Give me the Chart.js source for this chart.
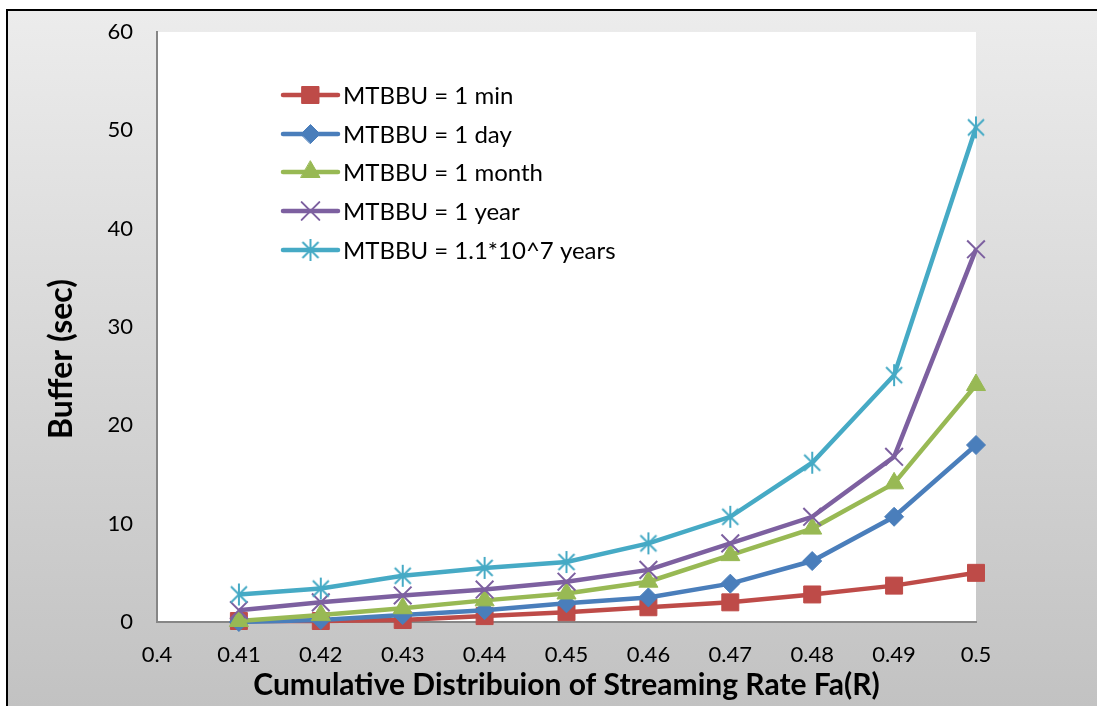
<!DOCTYPE html>
<html>
<head>
<meta charset="utf-8">
<script src="https://cdn.jsdelivr.net/npm/chart.js@4/dist/chart.umd.min.js"></script>
<style>
  html, body { margin: 0; padding: 0; background: #fff; }
  #wrap { width: 1097px; height: 706px; }
</style>
</head>
<body>
<div id="wrap"><canvas id="c" width="1097" height="706"></canvas></div>
<script>
// Streaming rate distribution points (x) and buffer size in seconds (y)
const xValues = [0.41, 0.42, 0.43, 0.44, 0.45, 0.46, 0.47, 0.48, 0.49, 0.50];
const xTickValues = [0.40, 0.41, 0.42, 0.43, 0.44, 0.45, 0.46, 0.47, 0.48, 0.49, 0.50];
const yTickValues = [0, 10, 20, 30, 40, 50, 60];

const seriesLabels = [
  'MTBBU = 1 min',
  'MTBBU = 1 day',
  'MTBBU = 1 month',
  'MTBBU = 1 year',
  'MTBBU = 1.1*10^7 years'
];
const bufferMin   = [0.1, 0.1, 0.2, 0.6, 1.0, 1.5, 2.0, 2.8, 3.7, 5.0];
const bufferDay   = [0.0, 0.2, 0.7, 1.2, 1.9, 2.5, 3.9, 6.2, 10.7, 18.0];
const bufferMonth = [0.1, 0.7, 1.4, 2.2, 2.9, 4.1, 6.8, 9.5, 14.1, 24.1];
const bufferYear  = [1.2, 2.0, 2.7, 3.3, 4.1, 5.3, 8.0, 10.7, 16.8, 37.9];
const bufferMax   = [2.8, 3.4, 4.7, 5.5, 6.1, 8.0, 10.7, 16.2, 25.1, 50.3];

const xTitle = 'Cumulative Distribuion of Streaming Rate Fa(R)';
const yTitle = 'Buffer (sec)';

const FONT = 'Lato';
const colors = ['#BE4B48', '#4A7EBB', '#98B954', '#7D60A0', '#46AAC5'];

// Six-armed asterisk marker (X with a vertical bar)
function makeStar(color) {
  const c = document.createElement('canvas');
  c.width = 24; c.height = 24;
  const g = c.getContext('2d');
  g.strokeStyle = color;
  g.lineWidth = 2;
  g.beginPath();
  g.moveTo(4, 4); g.lineTo(20, 20);
  g.moveTo(20, 4); g.lineTo(4, 20);
  g.moveTo(12, 1); g.lineTo(12, 23);
  g.stroke();
  return c;
}

const markers = [
  { pointStyle: 'rect', pointRadius: 12, pointBorderWidth: 1 },
  { pointStyle: 'rectRot', pointRadius: 9.5, pointBorderWidth: 1 },
  { pointStyle: 'triangle', pointRadius: 11, pointBorderWidth: 1 },
  { pointStyle: 'crossRot', pointRadius: 12.5, pointBorderWidth: 2 },
  { pointStyle: makeStar(colors[4]), pointRadius: 12, pointBorderWidth: 2 }
];

const seriesValues = [bufferMin, bufferDay, bufferMonth, bufferYear, bufferMax];

const datasets = seriesValues.map((vals, i) => ({
  label: seriesLabels[i],
  data: vals.map((v, k) => ({ x: xValues[k], y: v })),
  borderColor: colors[i],
  backgroundColor: colors[i],
  pointBackgroundColor: colors[i],
  pointBorderColor: colors[i],
  borderWidth: 4.5,
  tension: 0,
  clip: false,
  order: seriesValues.length - i,
  ...markers[i]
}));

// Frame, gradient background and white plot area
const backdrop = {
  id: 'backdrop',
  beforeDraw(chart) {
    const { ctx, width, height, chartArea: a } = chart;
    ctx.save();
    ctx.fillStyle = '#ffffff';
    ctx.fillRect(0, 0, width, height);
    const grad = ctx.createLinearGradient(0, 10, 0, 740);
    grad.addColorStop(0, '#ececec');
    grad.addColorStop(1, '#c0c0c0');
    ctx.fillStyle = grad;
    ctx.fillRect(7, 10, width + 10, height + 10);
    ctx.strokeStyle = '#000000';
    ctx.lineWidth = 2;
    ctx.strokeRect(7, 10, width + 10, height + 10);
    ctx.fillStyle = '#ffffff';
    ctx.fillRect(a.left, a.top, a.right - a.left, a.bottom - a.top);
    ctx.restore();
  }
};

// Legend inside the plot area, and both axis titles
const annotations = {
  id: 'annotations',
  afterDraw(chart) {
    const { ctx, chartArea: a } = chart;
    ctx.save();
    const x0 = 283, x1 = 338, textX = 343;
    const rowY = [95, 134, 172, 211, 250];
    chart.data.datasets.forEach((ds, i) => {
      const y = rowY[i];
      ctx.strokeStyle = ds.borderColor;
      ctx.lineWidth = 4.5;
      ctx.lineCap = 'round';
      ctx.beginPath();
      ctx.moveTo(x0, y);
      ctx.lineTo(x1, y);
      ctx.stroke();
      ctx.fillStyle = ds.backgroundColor;
      ctx.strokeStyle = ds.borderColor;
      ctx.lineWidth = ds.pointBorderWidth;
      Chart.helpers.drawPoint(ctx, {
        pointStyle: ds.pointStyle,
        radius: ds.pointRadius,
        rotation: 0,
        borderWidth: ds.pointBorderWidth
      }, (x0 + x1) / 2, y);
      ctx.fillStyle = '#000000';
      ctx.font = `24px ${FONT}`;
      ctx.textAlign = 'left';
      ctx.textBaseline = 'middle';
      ctx.fillText(ds.label, textX, y + 1);
    });

    ctx.fillStyle = '#000000';
    ctx.textAlign = 'center';
    ctx.textBaseline = 'alphabetic';
    ctx.font = `bold 30px ${FONT}`;
    ctx.fillText(xTitle, (a.left + a.right) / 2, 695);

    ctx.translate(72, 359);
    ctx.rotate(-Math.PI / 2);
    ctx.font = `bold 32px ${FONT}`;
    ctx.fillText(yTitle, 0, 0);
    ctx.restore();
  }
};

new Chart(document.getElementById('c'), {
  type: 'line',
  data: { datasets },
  plugins: [backdrop, annotations],
  options: {
    responsive: false,
    animation: false,
    devicePixelRatio: 1,
    layout: { padding: { left: 0, top: 32, right: 121, bottom: 0 } },
    plugins: { legend: { display: false }, tooltip: { enabled: false } },
    scales: {
      x: {
        type: 'linear',
        min: 0.4,
        max: 0.5,
        afterBuildTicks: s => { s.ticks = xTickValues.map(v => ({ value: v })); },
        afterFit: s => { s.height = 84; s.paddingLeft = 0; s.paddingRight = 0; },
        grid: { display: false, drawTicks: false },
        border: { display: true, color: '#868686', width: 2 },
        ticks: {
          padding: 20,
          color: '#000000',
          autoSkip: false,
          maxRotation: 0,
          font: { family: FONT, size: 22 },
          callback: v => String(v)
        }
      },
      y: {
        type: 'linear',
        min: 0,
        max: 60,
        afterBuildTicks: s => { s.ticks = yTickValues.map(v => ({ value: v })); },
        afterFit: s => { s.width = 157; s.paddingTop = 0; s.paddingBottom = 0; },
        grid: { display: false, drawTicks: false },
        border: { display: true, color: '#868686', width: 2 },
        ticks: {
          padding: 24,
          color: '#000000',
          font: { family: FONT, size: 22 }
        }
      }
    }
  }
});
</script>
</body>
</html>
